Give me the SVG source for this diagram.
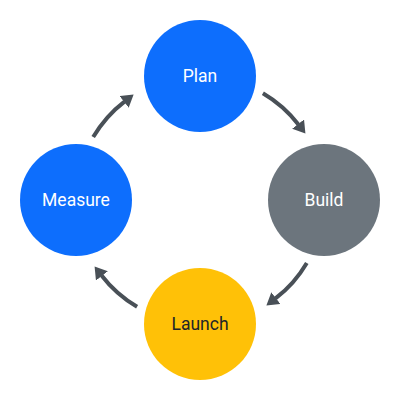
<svg xmlns="http://www.w3.org/2000/svg" width="400" height="400" viewBox="0 0 400 400">
<style>
.lbl{font-family:Roboto,"Liberation Sans",sans-serif;font-size:17.5px;text-anchor:middle;dominant-baseline:central}
.w{fill:#ffffff}
.d{fill:#212529}
.con{fill:none;stroke:#495057;stroke-width:4}
</style>
<defs>
<marker id="ah" viewBox="0 0 12 15" refX="0.5" refY="7.5" markerWidth="12" markerHeight="15" markerUnits="userSpaceOnUse" orient="auto">
<path d="M0,0 L12,7.5 L0,15 z" fill="#495057"/>
</marker>
</defs>
<rect width="400" height="400" fill="#ffffff"/>
<g id="connectors">
<path class="con" d="M262.9,93.2 A124,124 0 0 1 298.4,124.5" marker-end="url(#ah)"/>
<path class="con" d="M306.8,262.9 A124,124 0 0 1 275.5,298.4" marker-end="url(#ah)"/>
<path class="con" d="M137.1,306.8 A124,124 0 0 1 101.6,275.5" marker-end="url(#ah)"/>
<path class="con" d="M93.2,137.1 A124,124 0 0 1 124.5,101.6" marker-end="url(#ah)"/>
</g>
<g id="plan">
<circle cx="200" cy="76" r="56" fill="#0d6efd"/>
<text class="lbl w" x="200" y="76">Plan</text>
</g>
<g id="build">
<circle cx="324" cy="200" r="56" fill="#6c757d"/>
<text class="lbl w" x="324" y="200">Build</text>
</g>
<g id="launch">
<circle cx="200" cy="324" r="56" fill="#ffc107"/>
<text class="lbl d" x="200" y="324">Launch</text>
</g>
<g id="measure">
<circle cx="76" cy="200" r="56" fill="#0d6efd"/>
<text class="lbl w" x="76" y="200">Measure</text>
</g>
</svg>
